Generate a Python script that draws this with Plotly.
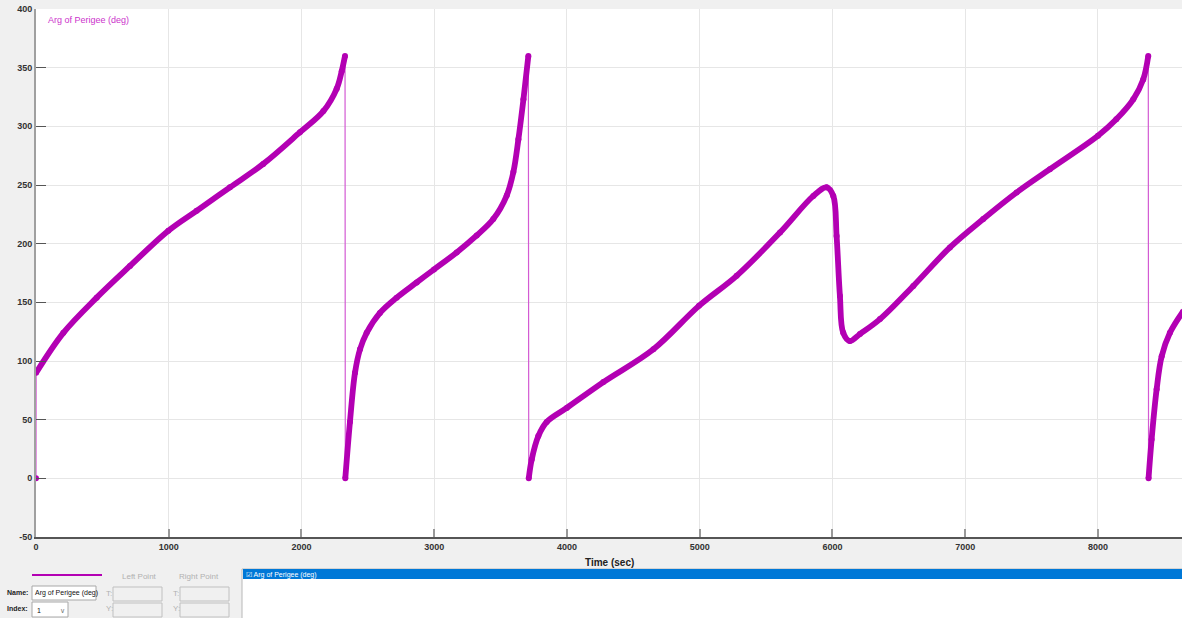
import plotly.graph_objects as go

# ---- data ----
time_sec = [0, 1, 206, 457, 708, 997, 1210, 1461, 1712, 1989, 2165, 2265, 2303, 2328,
            2330, 2365, 2403, 2441, 2491, 2591, 2717, 2868, 2998, 3169, 3320, 3445, 3546, 3596, 3634, 3672, 3709,
            3712, 3734, 3784, 3847, 3998, 4274, 4651, 4994, 5278, 5605, 5856, 5956, 6006, 6031, 6056, 6081, 6131,
            6207, 6358, 6609, 6885, 7136, 7387, 7638, 8000, 8138, 8266, 8341, 8379,
            8381, 8404, 8442, 8480, 8542, 8640]
arg_perigee = [0, 90, 124, 154, 181, 211, 228, 248, 268, 295, 313, 332, 347, 360,
               0, 48, 90, 110, 124, 141, 154, 167, 178, 192.5, 207, 221, 241, 261, 289, 323, 360,
               0, 16, 36, 48, 60, 82, 110, 147, 172.6, 209.5, 240.7, 248, 240.7, 206.6, 155.5, 124, 117,
               123, 135.7, 164, 196.8, 221, 243.6, 263.5, 292, 306, 323, 340, 360,
               0, 33, 76, 104, 124, 142]
x_ticks = [0, 1000, 2000, 3000, 4000, 5000, 6000, 7000, 8000]
y_ticks = [-50, 0, 50, 100, 150, 200, 250, 300, 350, 400]
series_name = "Arg of Perigee (deg)"
x_title = "Time (sec)"

LINE = "#b300b3"
THIN = "#d35ad3"

# thick segments: break where the angle wraps
seg_x, seg_y = [], []
for i, (t, v) in enumerate(zip(time_sec, arg_perigee)):
    if i > 0 and abs(v - arg_perigee[i - 1]) > 80 and (t - time_sec[i - 1]) < 5:
        seg_x.append(None)
        seg_y.append(None)
    seg_x.append(t)
    seg_y.append(v)

fig = go.Figure()
fig.add_trace(go.Scatter(x=time_sec, y=arg_perigee, mode="lines",
                         line=dict(color=THIN, width=1.2), hoverinfo="skip", showlegend=False))
fig.add_trace(go.Scatter(x=seg_x, y=seg_y, mode="lines+markers",
                         line=dict(color=LINE, width=5.8, shape="spline", smoothing=1.0),
                         marker=dict(color=LINE, size=6),
                         connectgaps=False, showlegend=False, name=series_name))

W, H = 1182, 618
L, R, T, B = 36, 0, 9, 81
pw, ph = W - L - R, H - T - B


def xp(px):
    return (px - L) / pw


def yp(py):
    return (H - B - py) / ph


shapes = []
annotations = []


def rect(x0, y0, x1, y1, fill, line="#c8c8c8", lw=1):
    shapes.append(dict(type="rect", xref="paper", yref="paper",
                       x0=xp(x0), x1=xp(x1), y0=yp(y1), y1=yp(y0),
                       fillcolor=fill, line=dict(color=line, width=lw), layer="above"))


def text(px, py, s, size=8, color="#222", bold=False, anchor="left"):
    annotations.append(dict(xref="paper", yref="paper", x=xp(px), y=yp(py), text=s,
                            showarrow=False, xanchor=anchor, yanchor="middle",
                            font=dict(size=size, color=color, family="Arial, Liberation Sans",
                                      weight="bold" if bold else "normal")))


# series label in plot
text(46, 20, series_name, size=9, color="#cc33cc")
# x title
text(609, 562, x_title, size=10, color="#222", bold=True, anchor="center")

# bottom panel
shapes.append(dict(type="line", xref="paper", yref="paper", x0=xp(32), x1=xp(102), y0=yp(575), y1=yp(575),
                   line=dict(color=LINE, width=2)))
text(139, 576, "Left Point", size=8, color="#b0b0b0", anchor="center")
text(199, 576, "Right Point", size=8, color="#b0b0b0", anchor="center")
text(5, 592, "Name:", size=7, color="#222", bold=True)
rect(32, 586, 96, 600, "#ffffff", line="#a8a8a8")
text(33, 593, series_name, size=7, color="#111")
text(5, 609, "Index:", size=7, color="#222", bold=True)
rect(32, 602, 68, 617, "#ffffff", line="#a8a8a8")
text(35, 610, "1", size=7, color="#111")
text(62, 610, "\u2228", size=7, color="#777", anchor="center")
for bx, lab in [(104, "T:"), (171, "T:")]:
    text(bx, 593, lab, size=8, color="#b0b0b0")
    text(bx, 609, "Y:", size=8, color="#b0b0b0")
    rect(bx + 9, 587, bx + 58, 601, "#f0f0f0", line="#c0c0c0")
    rect(bx + 9, 603, bx + 58, 617, "#f0f0f0", line="#c0c0c0")
rect(242, 569, 1183, 619, "#ffffff", line="#b8b8b8")
rect(243, 569, 1183, 579, "#0078d7", line="#0078d7", lw=0)
text(244, 574.5, "\u2611 " + series_name, size=7, color="#ffffff")

axis_font = dict(size=9, color="#333", family="Arial, Liberation Sans", weight="bold")
fig.update_layout(
    width=W, height=H,
    margin=dict(l=L, r=R, t=T, b=B, pad=0),
    paper_bgcolor="#f0f0f0", plot_bgcolor="#ffffff",
    showlegend=False,
    shapes=shapes, annotations=annotations,
    xaxis=dict(range=[0, 8633], tickvals=x_ticks, ticktext=[str(v) for v in x_ticks],
               showgrid=True, gridcolor="#e6e6e6", gridwidth=1, zeroline=False,
               ticks="inside", ticklen=8, tickcolor="#999", tickwidth=2,
               showline=True, linecolor="#555", linewidth=1.5,
               tickfont=axis_font, fixedrange=True),
    yaxis=dict(range=[-50, 400], tickvals=y_ticks, ticktext=[str(v) for v in y_ticks],
               showgrid=True, gridcolor="#e6e6e6", gridwidth=1, zeroline=False,
               ticks="inside", ticklen=10, tickcolor="#555", tickwidth=1,
               showline=True, linecolor="#a0a0a0", linewidth=2,
               tickfont=axis_font, fixedrange=True),
)

fig.write_html("out.html", config={"displayModeBar": False},
               post_script="document.body.style.margin='0';document.body.style.overflow='hidden';")
